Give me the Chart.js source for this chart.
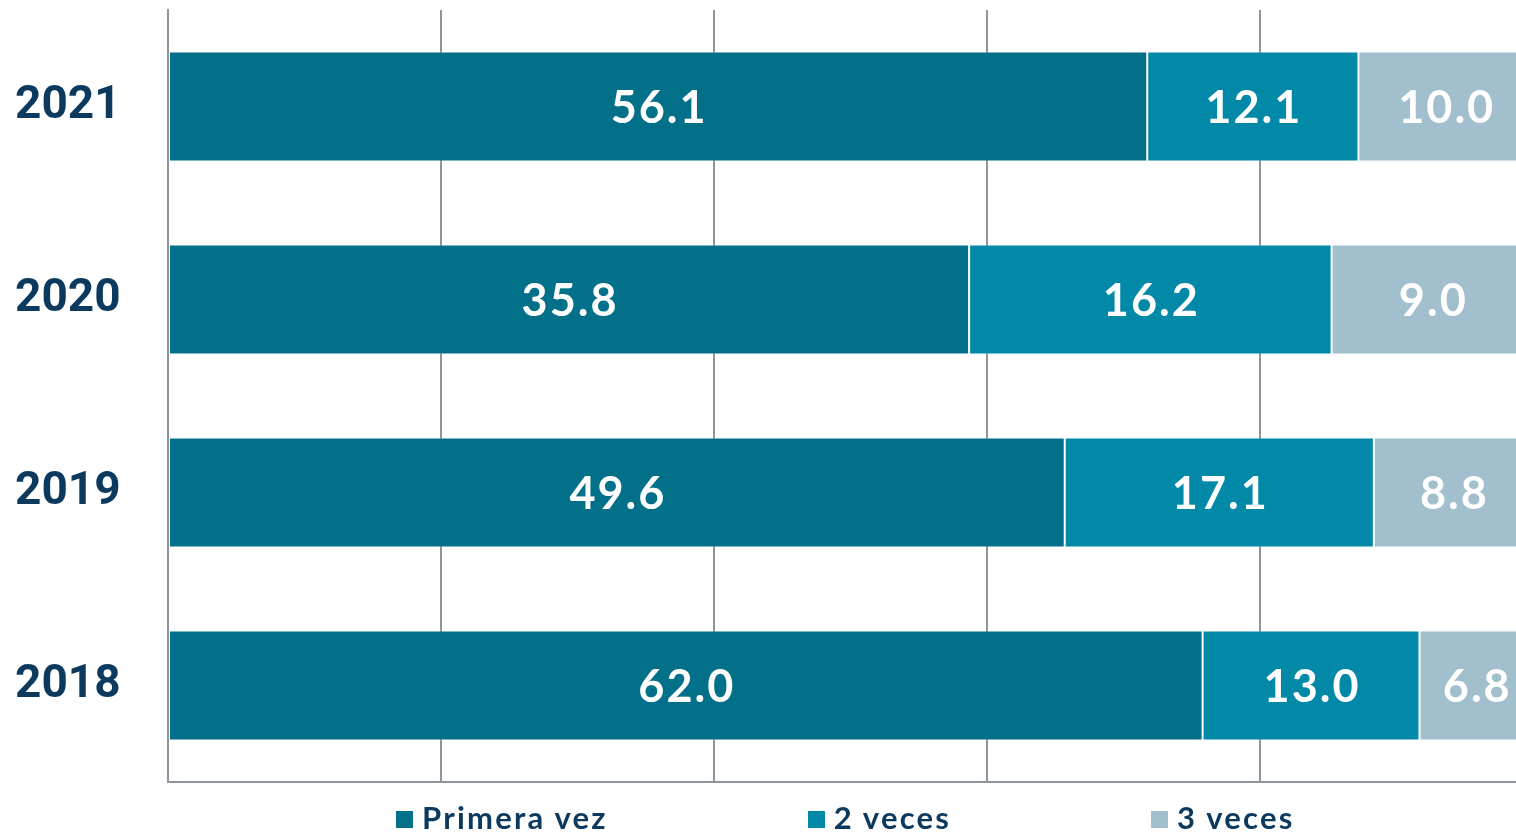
<!DOCTYPE html>
<html>
<head>
<meta charset="utf-8">
<title>Veces</title>
<script src="https://cdn.jsdelivr.net/npm/chart.js@4.4.0/dist/chart.umd.min.js"></script>
<style>
    html, body { margin: 0; padding: 0; background: #fff; overflow: hidden; }
    #wrap { position: relative; width: 1545px; height: 834px; }
    #legend { position: absolute; top: 800px; left: 0; display: flex; gap: 200px;
              font-family: Lato, "Open Sans", sans-serif; font-weight: 700; font-size: 31px;
              letter-spacing: 2.2px; color: #0B3A5E; line-height: 34px; }
    #legend .item { display: flex; align-items: center; white-space: nowrap; }
    #legend .box { width: 17px; height: 17px; margin-right: 9px; margin-top: 5px; }
</style>
</head>
<body>
<div id="wrap">
    <canvas id="chart"></canvas>
    <div id="legend"></div>
</div>
<script>
    // values
    const years = ['2021', '2020', '2019', '2018'];
    const primeraVez = [56.1, 35.8, 49.6, 62.0];
    const dosVeces = [12.1, 16.2, 17.1, 13.0];
    const tresVeces = [10.0, 9.0, 8.8, 6.8];

    const seriesNames = ['Primera vez', '2 veces', '3 veces'];
    const seriesColors = ['#03708A', '#0289A8', '#A2BFCD'];

    const NAVY = '#0B3A5E';
    const GRID = '#8E959C';

    // 100% stacked: each year's bar is split by share of its total
    const totals = years.map((_, i) => primeraVez[i] + dosVeces[i] + tresVeces[i]);
    const share = arr => arr.map((v, i) => v / totals[i] * 100);

    const rawSeries = [primeraVez, dosVeces, tresVeces];

    const valueLabels = {
        id: 'valueLabels',
        afterDatasetsDraw(chart) {
            const ctx = chart.ctx;
            ctx.save();
            ctx.font = 'bold 45px Lato, sans-serif';
            ctx.letterSpacing = '2px';
            ctx.fillStyle = '#fff';
            ctx.textAlign = 'center';
            ctx.textBaseline = 'middle';
            chart.data.datasets.forEach((ds, di) => {
                chart.getDatasetMeta(di).data.forEach((bar, i) => {
                    const x = (bar.x + bar.base) / 2;
                    ctx.fillText(ds.raw[i].toFixed(1), x + 1, bar.y + 2);
                });
            });
            ctx.restore();
        }
    };

    function buildLegend(chart) {
        const el = document.getElementById('legend');
        el.innerHTML = chart.data.datasets.map(ds =>
            `<div class="item"><span class="box" style="background:${ds.backgroundColor}"></span>${ds.label}</div>`
        ).join('');
        const area = chart.chartArea;
        const center = (area.left + area.right) / 2 - 5;
        el.style.left = (center - el.offsetWidth / 2) + 'px';
    }

    const chart = new Chart(document.getElementById('chart'), {
        type: 'bar',
        data: {
            labels: years,
            datasets: rawSeries.map((arr, i) => ({
                label: seriesNames[i],
                data: share(arr),
                raw: arr,
                backgroundColor: seriesColors[i],
                borderColor: 'rgba(255,255,255,0.3)',
                borderWidth: 1,
                borderSkipped: false,
                barPercentage: 1,
                categoryPercentage: 0.57
            }))
        },
        options: {
            indexAxis: 'y',
            responsive: true,
            maintainAspectRatio: false,
            animation: false,
            layout: { padding: { top: 10, left: 15, right: 12, bottom: 52 } },
            plugins: {
                legend: { display: false },
                tooltip: { enabled: false }
            },
            scales: {
                x: {
                    stacked: true,
                    min: 0,
                    max: 100,
                    ticks: { display: false, stepSize: 20 },
                    grid: { color: GRID, lineWidth: 2, drawTicks: false },
                    border: { display: true, color: GRID, width: 2 }
                },
                y: {
                    stacked: true,
                    grid: { display: false, drawTicks: false },
                    border: { display: true, color: GRID, width: 2 },
                    ticks: {
                        crossAlign: 'far',
                        color: NAVY,
                        font: { family: 'Roboto', weight: 'bold', size: 46 }
                    },
                    afterFit(scale) {
                        scale.width = 153;
                        scale.paddingTop = 0;
                        scale.paddingBottom = 0;
                    }
                }
            }
        },
        plugins: [valueLabels]
    });

    buildLegend(chart);
</script>
</body>
</html>
